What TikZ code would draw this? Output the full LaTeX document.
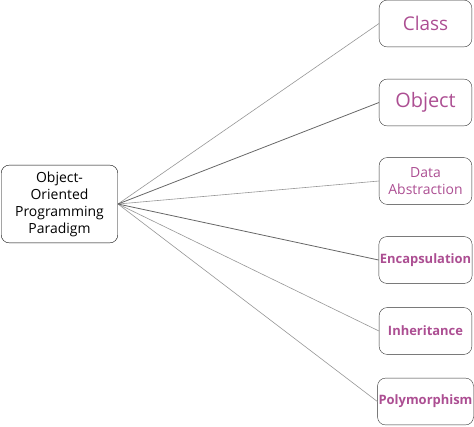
\documentclass[tikz,border=0pt]{standalone}
\usepackage{fontspec}
\setmainfont{Open Sans}
\definecolor{topiccolor}{RGB}{172,78,146}
\definecolor{linkgray}{RGB}{150,150,150}
\tikzset{
  rootbox/.style = {draw = black, rounded corners = 8, minimum width = 117, minimum height = 78, align = center, font = \fontsize{14}{17}\selectfont},
  topicbox/.style = {draw = black!80, rounded corners = 8, minimum width = 93, minimum height = 47, inner sep = 1, align = center, text = topiccolor},
  link/.style = {draw = linkgray, line width = 0.6},
  darklink/.style = {draw = black!60, line width = 0.8}
}
\begin{document}
\begin{tikzpicture}[x = 1bp, y = -1bp]
\useasboundingbox (0,0) rectangle (474,426);
\node [rootbox] (paradigm) at (59.5,204) {Object-\\Oriented\\Programming\\Paradigm};
\node [topicbox, font = \fontsize{19}{21}\selectfont] (class) at (425.5,23.5) {Class};
\node [topicbox, font = \fontsize{20}{22}\selectfont] (object) at (425.5,102.5) {Object};
\node [topicbox, font = \fontsize{14}{17}\selectfont] (data) at (425.5,181) {Data\\Abstraction};
\node [topicbox, font = \bfseries\fontsize{13}{15}\selectfont] (encaps) at (425.5,260) {Encapsulation};
\node [topicbox, font = \bfseries\fontsize{13}{15}\selectfont] (inherit) at (425.5,331) {Inheritance};
\node [topicbox, font = \bfseries\fontsize{13}{15}\selectfont] (poly) at (425.5,401.5) {Polymorphism};
\foreach \t in {class, data, inherit, poly} \draw [link] (paradigm.east) -- (\t.west);
\foreach \t in {object, encaps} \draw [darklink] (paradigm.east) -- (\t.west);
\end{tikzpicture}
\end{document}
